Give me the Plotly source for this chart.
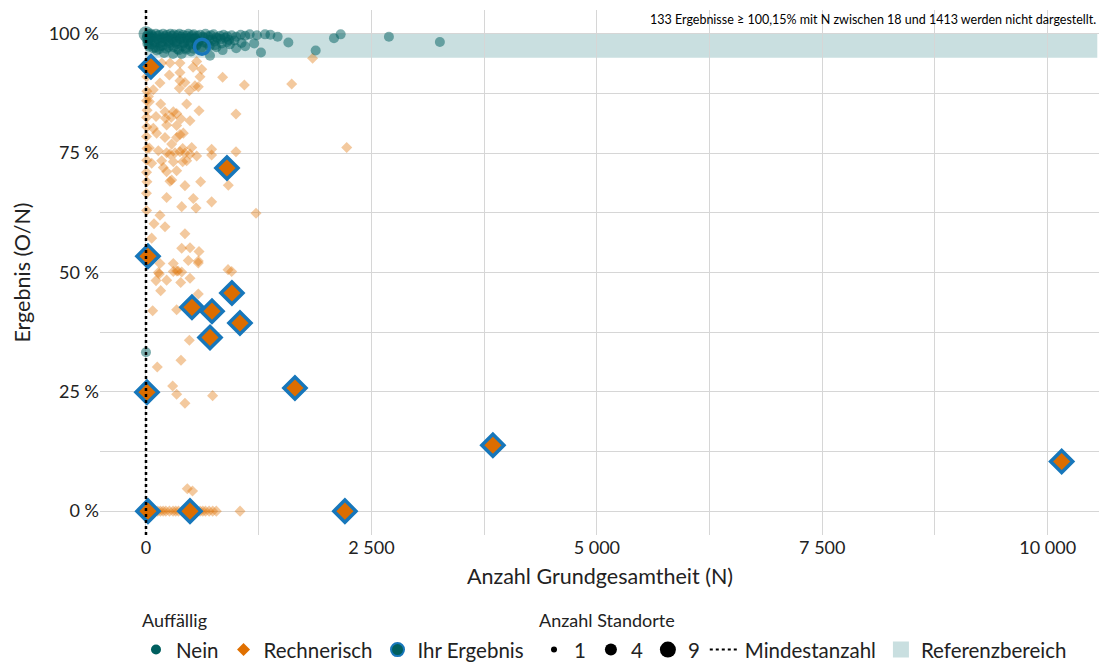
import plotly.graph_objects as go

# ---------------- data ----------------
# "Nein" (teal) results: N, result in %
nein_n = [0, 10, 25, 40, 55, 70, 90, 110, 130, 150, 170, 190, 210, 230, 250, 270, 290, 310, 330,
          350, 370, 390, 410, 430, 450, 470, 490, 510, 530, 550, 570, 600, 630, 660, 690, 720, 750,
          780, 820, 860, 900, 950, 1000, 1050, 1100, 1150, 1230, 1320,
          20, 60, 100, 140, 180, 220, 260, 300, 340, 380, 420, 460, 500, 540, 580, 640, 700, 760,
          830, 900, 980, 1060,
          30, 80, 120, 160, 200, 250, 300, 350, 396, 440, 500, 560, 710, 780, 850, 930, 1000, 1100,
          1275, 1200,
          1380, 1460, 1579, 1882, 2085, 2159, 2694, 3259, 0, 0,
          5, 15, 35, 45, 65, 85, 105, 125, 145, 165, 185, 205, 225, 245, 265, 285, 305, 325, 345,
          365, 385, 405, 425, 445, 465, 485, 505, 525, 545, 565, 585, 615, 645, 675, 705, 735, 765,
          795, 840, 880, 920]
nein_y = [100.0, 99.6, 99.9, 99.4, 100.0, 99.7, 99.3, 100.0, 99.6, 99.8, 99.2, 100.0, 99.5, 99.8,
          99.3, 100.0, 99.6, 99.9, 99.2, 99.7, 100.0, 99.4, 99.8, 99.1, 99.6, 100.0, 99.3, 99.7,
          99.9, 99.2, 99.6, 99.8, 99.4, 100.0, 99.5, 99.7, 99.9, 99.3, 99.6, 99.8, 99.5, 99.7,
          99.4, 99.8, 99.6, 99.9, 99.7, 99.9,
          98.5, 98.9, 98.2, 98.7, 98.3, 98.9, 98.1, 98.6, 98.4, 98.8, 98.0, 98.6, 98.3, 98.9,
          98.5, 98.2, 98.7, 98.4, 98.9, 98.3, 98.6, 98.1,
          97.7, 97.0, 96.5, 97.4, 96.0, 97.2, 95.8, 96.8, 95.8, 97.0, 96.3, 97.5, 95.4, 97.2,
          96.6, 97.8, 97.0, 97.4, 96.1, 98.0,
          99.8, 99.4, 98.2, 96.5, 99.1, 99.9, 99.4, 98.3, 33.3, 0.0,
          99.0, 98.0, 97.3, 99.1, 97.8, 98.4, 97.1, 99.0, 96.8, 98.1, 97.5, 99.1, 96.9, 98.5,
          97.6, 99.0, 97.2, 98.3, 97.9, 96.6, 99.0, 97.4, 98.2, 96.7, 99.1, 97.7, 98.0, 96.9,
          99.0, 97.8, 98.4, 97.1, 99.2, 98.0, 97.4, 98.8, 97.6, 99.1, 98.0, 99.2, 98.7]
nein_standorte = [4] + [1] * 98 + [4] + [1] * 41

# "Rechnerisch" (orange) results
rech_n = [266, 377, 562, 174, 259, 377, 522, 618, 599, 850, 1091, 1616, 1848, 155, 377, 432, 543,
          580, 481, 370, 81, 26, 37, 163, 211, 303, 340, 451, 588, 998, 111, 217, 279, 388, 488,
          229, 340, 81, 118, 211, 340, 414, 377, 285, 407, 507, 37, 137, 229, 266, 322, 377, 432,
          488, 562, 728, 728, 998, 2226, 63, 174, 303, 407, 451, 192, 229, 340, 285, 266, 432,
          606, 913, 5, 229, 525, 728, 396, 555, 1220, 155, 89, 211, 432, 63, 396, 488, 588, 155,
          303, 469, 580, 580, 137, 303, 355, 396, 910, 950,
          148, 340, 111, 229, 385, 488, 163, 580, 74, 340, 481, 388, 125, 296, 340, 432, 739, 8,
          458, 516,
          100, 130, 160, 190, 220, 260, 300, 330, 360, 400, 430, 560, 600, 630, 660, 700, 740, 780,
          1043,
          8, 10, 6, 12, 7, 9, 5, 11, 8, 6, 10, 7]
rech_y = [93.9, 93.9, 94.2, 93.9, 91.4, 91.9, 93.0, 92.6, 91.0, 90.9, 89.3, 89.5, 94.9, 89.7,
          90.2, 89.8, 89.1, 88.9, 88.1, 88.6, 88.3, 86.9, 85.8, 85.3, 83.7, 83.7, 83.3, 85.3,
          83.9, 83.2, 82.7, 82.3, 82.5, 82.2, 81.8, 80.9, 80.8, 80.2, 79.2, 78.3, 78.3, 79.2,
          78.9, 76.9, 76.0, 76.2, 76.1, 75.5, 75.1, 74.8, 75.1, 75.3, 75.0, 74.8, 74.4, 75.8,
          74.6, 75.3, 76.2, 72.9, 73.4, 73.2, 73.2, 73.4, 72.0, 71.1, 71.3, 69.4, 69.1, 68.2,
          69.0, 68.3, 66.6, 65.7, 65.5, 64.8, 63.8, 63.5, 62.4, 62.0, 60.2, 59.6, 58.1, 57.2,
          55.1, 55.2, 54.4, 51.9, 51.9, 52.5, 52.4, 52.0, 50.0, 50.2, 50.3, 50.1, 50.6, 50.2,
          49.7, 50.3, 48.3, 48.4, 47.9, 48.8, 46.2, 45.5, 42.0, 42.2, 35.8, 31.6, 30.2, 26.2,
          24.5, 22.6, 24.2, 24.0,
          4.7, 4.2,
          0, 0, 0, 0, 0, 0, 0, 0, 0, 0, 0, 0, 0, 0, 0, 0, 0, 0, 0,
          91.0, 88.0, 86.0, 84.0, 82.5, 80.5, 78.5, 76.0, 73.5, 71.0, 69.0, 63.0]

# "Ihr Ergebnis" results
own_rech_n = [55, 898, 22, 510, 732, 953, 1042, 710, 11, 1652, 3847, 10155, 22, 488, 2206]
own_rech_y = [93.1, 71.9, 53.4, 42.7, 41.9, 45.7, 39.4, 36.4, 24.9, 25.8, 13.8, 10.4, 0.0, 0.0, 0.0]
own_nein_n = [621]
own_nein_y = [97.3]

mindestanzahl = 0
ref_lo, ref_hi = 95, 100
ref_n_max = 10550

x_ticks = [0, 2500, 5000, 7500, 10000]
x_ticklabels = ["0", "2 500", "5 000", "7 500", "10 000"]
y_ticks = [0, 25, 50, 75, 100]
y_ticklabels = ["0 %", "25 %", "50 %", "75 %", "100 %"]

note = "133 Ergebnisse ≥ 100,15% mit N zwischen 18 und 1413 werden nicht dargestellt."

# ---------------- style ----------------
TEAL = "#005f5f"
ORANGE = "#e07000"
BLUE = "#1777bb"
BAND = "#c9dfe0"
FONT = "Lato"


def size_of(s):
    return {1: 10, 4: 15, 9: 19}[s]


fig = go.Figure()

fig.add_shape(type="rect", x0=mindestanzahl, x1=ref_n_max, y0=ref_lo, y1=ref_hi,
              fillcolor=BAND, line_width=0, layer="below")

fig.add_trace(go.Scatter(x=rech_n, y=rech_y, mode="markers", showlegend=False,
                         marker=dict(symbol="diamond", size=8.5, color=ORANGE, opacity=0.38,
                                     line_width=0)))
fig.add_trace(go.Scatter(x=nein_n, y=nein_y, mode="markers", showlegend=False,
                         marker=dict(symbol="circle", size=[size_of(s) for s in nein_standorte],
                                     color=TEAL, opacity=0.5, line_width=0)))

fig.add_shape(type="line", x0=mindestanzahl, x1=mindestanzahl, y0=-5, y1=105,
              line=dict(color="black", width=2.5, dash="dot"))

fig.add_trace(go.Scatter(x=own_rech_n, y=own_rech_y, mode="markers", showlegend=False,
                         marker=dict(symbol="diamond", size=17, color="#dc6d00",
                                     line=dict(color=BLUE, width=3.5))))
fig.add_trace(go.Scatter(x=own_nein_n, y=own_nein_y, mode="markers", showlegend=False,
                         marker=dict(symbol="circle", size=15, color="rgba(0,95,95,0.5)",
                                     line=dict(color=BLUE, width=3.5))))

# legend entries
fig.add_trace(go.Scatter(x=[None], y=[None], mode="markers", name="Nein", legend="legend",
                         marker=dict(symbol="circle", size=10, color=TEAL)))
fig.add_trace(go.Scatter(x=[None], y=[None], mode="markers", name="Rechnerisch", legend="legend",
                         marker=dict(symbol="diamond", size=10, color=ORANGE)))
fig.add_trace(go.Scatter(x=[None], y=[None], mode="markers", name="Ihr Ergebnis", legend="legend",
                         marker=dict(symbol="circle", size=13, color=TEAL,
                                     line=dict(color=BLUE, width=2))))
for s, sz in [(1, 6), (4, 12), (9, 16)]:
    fig.add_trace(go.Scatter(x=[None], y=[None], mode="markers", name=str(s), legend="legend2",
                             marker=dict(symbol="circle", size=sz, color="black")))
fig.add_trace(go.Scatter(x=[None], y=[None], mode="lines", name="Mindestanzahl", legend="legend2",
                         line=dict(color="black", width=2, dash="dot")))
fig.add_trace(go.Scatter(x=[None], y=[None], mode="markers", name="Referenzbereich",
                         legend="legend2",
                         marker=dict(symbol="square", size=24, color=BAND)))

fig.add_annotation(text=note, xref="paper", yref="paper", x=1.0, y=1.0, xanchor="right",
                   yanchor="top", showarrow=False, xshift=-2, yshift=0,
                   font=dict(size=12.5, color="black", family=FONT))

# legend group titles
fig.add_annotation(text="Auffällig", xref="paper", yref="paper", x=0.040, y=-0.162,
                   xanchor="left", yanchor="middle", showarrow=False,
                   font=dict(size=18, color="#222", family=FONT))
fig.add_annotation(text="Anzahl Standorte", xref="paper", yref="paper", x=0.437, y=-0.162,
                   xanchor="left", yanchor="middle", showarrow=False,
                   font=dict(size=18, color="#222", family=FONT))

grid = "#d6d6d6"
fig.update_layout(
    width=1099, height=656,
    margin=dict(l=92, r=7, t=2, b=129, autoexpand=False),
    plot_bgcolor="white", paper_bgcolor="white",
    font=dict(family=FONT, size=18, color="#222"),
    xaxis=dict(range=[-510, 10580], tickvals=x_ticks, ticktext=x_ticklabels,
               showgrid=True, gridcolor=grid, gridwidth=1.3,
               minor=dict(dtick=1250, tick0=0, showgrid=True, gridcolor=grid, gridwidth=1),
               zeroline=False, showline=False, ticks="", tickfont=dict(size=18),
               title=dict(text="Anzahl Grundgesamtheit (N)", font=dict(size=21.5), standoff=11)),
    yaxis=dict(range=[-5, 105], tickvals=y_ticks, ticktext=y_ticklabels,
               showgrid=True, gridcolor=grid, gridwidth=1.3,
               minor=dict(dtick=12.5, tick0=0, showgrid=True, gridcolor=grid, gridwidth=1),
               zeroline=False, showline=False, ticks="", tickfont=dict(size=18),
               title=dict(text="Ergebnis (O/N)", font=dict(size=21.5), standoff=12)),
    legend=dict(orientation="h", x=0.036, y=-0.1805, xanchor="left", yanchor="top",
                font=dict(size=20.5),
                itemsizing="trace", tracegroupgap=0, itemwidth=30),
    legend2=dict(orientation="h", x=0.434, y=-0.1805, xanchor="left", yanchor="top",
                 font=dict(size=20.5),
                 itemsizing="trace", tracegroupgap=0, itemwidth=30),
)

fig.write_html("out.html")
